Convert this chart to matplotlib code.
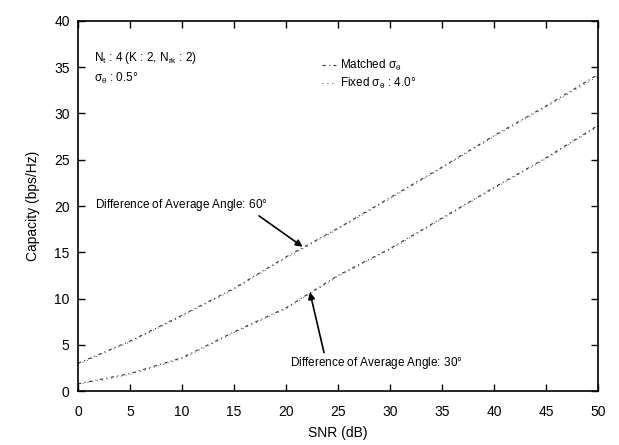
import matplotlib
matplotlib.use("Agg")
import matplotlib.pyplot as plt

plt.rcParams['font.family'] = ['Liberation Sans', 'DejaVu Sans']
plt.rcParams['mathtext.fontset'] = 'custom'
plt.rcParams['mathtext.rm'] = 'Liberation Sans'
plt.rcParams['mathtext.it'] = 'Liberation Sans'

snr = [0, 5, 10, 15, 20, 25, 30, 35, 40, 45, 50]
cap_60_matched = [3.0, 5.4, 8.2, 11.1, 14.5, 17.6, 20.9, 24.2, 27.6, 30.8, 34.2]
cap_60_fixed = [2.9, 5.3, 8.1, 11.0, 14.4, 17.5, 20.8, 24.1, 27.5, 30.7, 34.0]
cap_30_matched = [0.8, 1.9, 3.6, 6.4, 9.0, 12.5, 15.4, 18.7, 22.0, 25.2, 28.7]
cap_30_fixed = [0.7, 1.8, 3.5, 6.3, 8.9, 12.4, 15.3, 18.6, 21.9, 25.1, 28.6]

xticks = [0, 5, 10, 15, 20, 25, 30, 35, 40, 45, 50]
yticks = [0, 5, 10, 15, 20, 25, 30, 35, 40]

fig = plt.figure(figsize=(6.19, 4.45), dpi=100)
ax = fig.add_axes([0.126, 0.121, 0.840, 0.832])

ax.plot(snr, cap_60_matched, color='#333333', lw=0.8, ls=(0, (3, 3, 1, 3)), label=r'Matched $\sigma_\theta$')
ax.plot(snr, cap_60_fixed, color='#555555', lw=0.7, ls=(0, (1, 4)), label=r'Fixed $\sigma_\theta$ : 4.0$\degree$')
ax.plot(snr, cap_30_matched, color='#333333', lw=0.8, ls=(0, (3, 3, 1, 3)))
ax.plot(snr, cap_30_fixed, color='#555555', lw=0.7, ls=(0, (1, 4)))

ax.set_xlim(0, 50)
ax.set_ylim(0, 40)
ax.set_xticks(xticks)
ax.set_yticks(yticks)
ax.tick_params(direction='in', top=True, right=True, labelsize=10, length=5, width=1)
ax.tick_params(axis='x', pad=10)
ax.tick_params(axis='y', pad=6)
for s in ax.spines.values():
    s.set_linewidth(1.2)

ax.set_xlabel('SNR (dB)', fontsize=10, labelpad=5)
ax.set_ylabel('Capacity (bps/Hz)', fontsize=10, labelpad=10)

ax.text(1.5, 36.0, r'N$_t$ : 4 (K : 2, N$_{rk}$ : 2)', fontsize=8.5, va='center', ha='left')
ax.text(1.5, 33.8, r'$\sigma_\theta$ : 0.5$\degree$', fontsize=8.5, va='center', ha='left')

ax.legend(loc='center', bbox_to_anchor=(0.56, 0.855), frameon=False, fontsize=8.5,
          handlelength=1.2, handletextpad=0.4, labelspacing=0.3)

ax.annotate(r'Difference of Average Angle: 60$\degree$', xy=(21.6, 15.6), xytext=(1.6, 20.1),
            fontsize=8.5, va='center', ha='left',
            arrowprops=dict(arrowstyle='-|>', color='black', lw=1.2, shrinkA=0, shrinkB=0,
                            mutation_scale=10, relpos=(0.93, 0.0)))
ax.annotate(r'Difference of Average Angle: 30$\degree$', xy=(22.3, 10.7), xytext=(20.4, 3.0),
            fontsize=8.5, va='center', ha='left',
            arrowprops=dict(arrowstyle='-|>', color='black', lw=1.2, shrinkA=0, shrinkB=0,
                            mutation_scale=10, relpos=(0.2, 1.0)))

fig.savefig('out.png', dpi=100)
